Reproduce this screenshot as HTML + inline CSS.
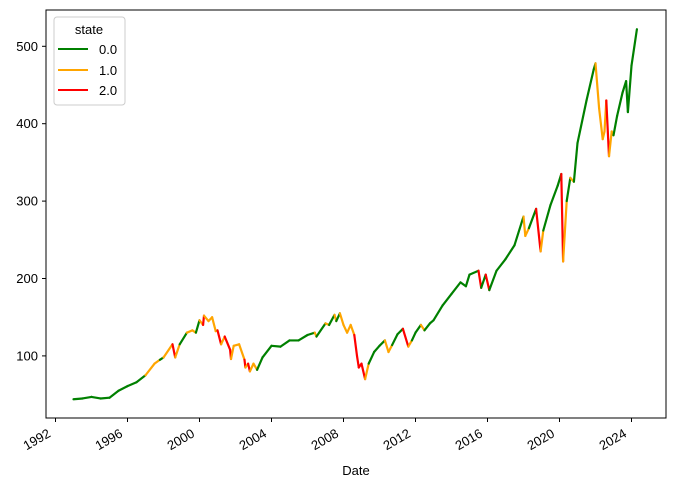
<!DOCTYPE html>
<html><head><meta charset="utf-8"><style>
body{margin:0;background:#fff;}
svg{font-family:"Liberation Sans","DejaVu Sans",sans-serif;}
</style></head><body>
<svg id="chart" width="676" height="487">
<g id="plot"></g>
<rect x="46" y="10" width="620" height="408" fill="none" stroke="#000" stroke-width="1"/>
<g id="axes"></g>
<text x="356" y="475" text-anchor="middle" font-size="13">Date</text>
<g>
<rect x="54" y="17" width="71" height="88" rx="3" fill="#fff" fill-opacity="0.8" stroke="#ccc"/>
<text x="89" y="34" text-anchor="middle" font-size="13">state</text>
<g><line x1="58" y1="49" x2="88" y2="49" stroke="green" stroke-width="2"/><text x="99" y="54" font-size="13">0.0</text></g>
<g><line x1="58" y1="70" x2="88" y2="70" stroke="orange" stroke-width="2"/><text x="99" y="75" font-size="13">1.0</text></g>
<g><line x1="58" y1="90" x2="88" y2="90" stroke="red" stroke-width="2"/><text x="99" y="95" font-size="13">2.0</text></g>
</g>
</svg>
<script>
const dates=[1993.0,1993.5,1994.0,1994.5,1995.0,1995.5,1996.0,1996.5,1997.0,1997.5,1997.8,1998.0,1998.5,1998.65,1998.9,1999.3,1999.6,1999.8,2000.0,2000.2,2000.25,2000.5,2000.7,2000.9,2001.0,2001.2,2001.4,2001.7,2001.75,2001.9,2002.2,2002.5,2002.55,2002.7,2002.8,2003.0,2003.2,2003.5,2004.0,2004.5,2005.0,2005.5,2006.0,2006.4,2006.5,2007.0,2007.2,2007.5,2007.6,2007.8,2008.0,2008.2,2008.4,2008.6,2008.75,2008.85,2009.0,2009.2,2009.4,2009.7,2010.0,2010.3,2010.5,2010.7,2011.0,2011.3,2011.6,2011.8,2012.0,2012.3,2012.5,2012.8,2013.0,2013.5,2014.0,2014.5,2014.8,2015.0,2015.5,2015.65,2015.9,2016.1,2016.5,2017.0,2017.5,2018.0,2018.1,2018.3,2018.7,2018.95,2019.1,2019.5,2019.9,2020.1,2020.2,2020.4,2020.6,2020.8,2021.0,2021.5,2021.9,2022.0,2022.2,2022.4,2022.5,2022.6,2022.75,2022.9,2023.0,2023.2,2023.5,2023.7,2023.8,2024.0,2024.3];
const prices=[44,45,47,45,46,55,61,66,75,90,95,98,115,98,115,130,133,130,146,140,152,145,150,132,133,115,125,108,96,113,115,95,85,90,80,90,82,98,113,112,120,120,127,130,125,142,140,153,145,155,140,130,140,127,100,85,90,70,90,105,113,120,105,114,128,135,112,120,130,140,133,142,146,165,180,195,190,205,210,188,205,185,210,225,243,280,255,265,290,235,262,295,320,335,222,300,330,325,375,430,470,478,420,380,390,430,358,390,385,410,440,455,415,475,522];
const states=[0,0,0,0,0,0,0,0,0,1,1,0,1,2,1,0,1,1,0,1,2,1,1,1,1,2,1,2,2,1,1,1,2,1,2,1,1,0,0,0,0,0,0,0,1,0,1,0,1,0,1,1,1,1,2,2,2,2,1,0,0,0,1,1,0,0,2,1,0,0,1,0,0,0,0,0,0,0,0,2,0,2,0,0,0,0,1,1,0,2,1,0,0,0,2,1,0,1,0,0,0,0,1,1,1,1,2,1,1,0,0,0,0,0,0];
const yTicks=[100,200,300,400,500];
const xTicks=[1992,1996,2000,2004,2008,2012,2016,2020,2024];
const colors=['green','orange','red'];
const ns='http://www.w3.org/2000/svg';
function X(d){return 55.5+(d-1992)*18.0;}
function Y(v){return 433.3-v*0.774;}
const plot=document.getElementById('plot'),axes=document.getElementById('axes');
for(let i=1;i<dates.length;i++){
 const l=document.createElementNS(ns,'line');
 l.setAttribute('x1',X(dates[i-1]));l.setAttribute('y1',Y(prices[i-1]));
 l.setAttribute('x2',X(dates[i]));l.setAttribute('y2',Y(prices[i]));
 l.setAttribute('stroke',colors[states[i]]);l.setAttribute('stroke-width','2.2');l.setAttribute('stroke-linecap','round');
 
 
 plot.appendChild(l);
}
yTicks.forEach(v=>{
 const y=Y(v);
 const t=document.createElementNS(ns,'line');
 t.setAttribute('x1',42);t.setAttribute('x2',46);t.setAttribute('y1',y);t.setAttribute('y2',y);t.setAttribute('stroke','#000');
 
 
 axes.appendChild(t);
 const tx=document.createElementNS(ns,'text');
 tx.setAttribute('x',38);tx.setAttribute('y',y+4.5);tx.setAttribute('text-anchor','end');tx.setAttribute('font-size','13');tx.textContent=v;
 
 
 axes.appendChild(tx);
});
xTicks.forEach(d=>{
 const x=X(d);
 const t=document.createElementNS(ns,'line');
 t.setAttribute('x1',x);t.setAttribute('x2',x);t.setAttribute('y1',418);t.setAttribute('y2',422);t.setAttribute('stroke','#000');
 
 
 axes.appendChild(t);
 const ax=x-4, ay=436;
 const tx=document.createElementNS(ns,'text');
 tx.setAttribute('x',ax);tx.setAttribute('y',ay);tx.setAttribute('text-anchor','end');tx.setAttribute('font-size','13');
 tx.setAttribute('transform','rotate(-30 '+ax+' '+ay+')');tx.textContent=d;
 
 
 axes.appendChild(tx);
});
</script>
</body></html>
